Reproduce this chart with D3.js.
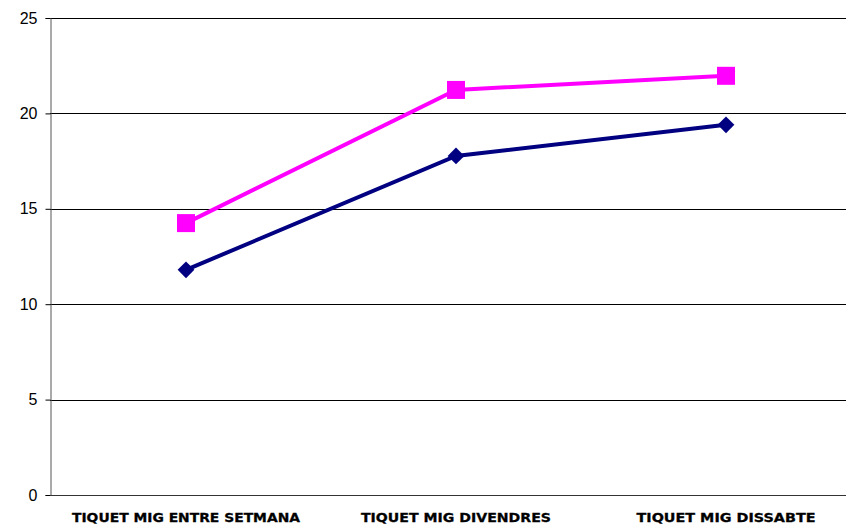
<!DOCTYPE html>
<html>
<head>
<meta charset="utf-8">
<script src="https://cdn.jsdelivr.net/npm/d3@7"></script>
<style>
  body { margin: 0; background: #fff; }
  svg { display: block; }
</style>
</head>
<body>
<svg id="chart" width="846" height="524"></svg>
<script>
const categories = ["TIQUET MIG ENTRE SETMANA", "TIQUET MIG DIVENDRES", "TIQUET MIG DISSABTE"];
const pinkValues = [14.25, 21.23, 21.97];
const navyValues = [11.8, 17.77, 19.4];
const yTicks = [0, 5, 10, 15, 20, 25];

const svg = d3.select("#chart");
const plotLeft = 50, plotRight = 860, plotTop = 18, plotBottom = 495;

const x = d3.scaleBand().domain(categories).range([plotLeft + 1, plotRight + 1]);
const y = d3.scaleLinear().domain([0, 25]).range([plotBottom, plotTop]);
const cx = d => x(d) + x.bandwidth() / 2;

// gridlines
svg.append("g")
    .selectAll("line")
    .data(yTicks.filter(t => t > 0))
    .enter().append("line")
    .attr("x1", plotLeft).attr("x2", 846)
    .attr("y1", d => Math.round(y(d)) + 0.5)
    .attr("y2", d => Math.round(y(d)) + 0.5)
    .attr("stroke", "#000")
    .attr("stroke-width", 1);

// y axis
const yAxis = svg.append("g")
    .attr("transform", `translate(${plotLeft + 0.5},0)`)
    .call(d3.axisLeft(y).tickValues(yTicks).tickSize(5).tickPadding(8));
yAxis.select(".domain").attr("stroke", "#555");
yAxis.selectAll(".tick line").attr("stroke", "#000");
yAxis.selectAll(".tick text")
    .attr("font-family", "Liberation Sans, Arial, sans-serif")
    .attr("font-size", 16)
    .attr("fill", "#000");

// x axis
const labelWidths = { "TIQUET MIG ENTRE SETMANA": 228, "TIQUET MIG DIVENDRES": 190, "TIQUET MIG DISSABTE": 179 };
const xAxis = svg.append("g")
    .attr("transform", `translate(0,${plotBottom + 0.5})`)
    .call(d3.axisBottom(x).tickSize(0).tickPadding(15));
xAxis.select(".domain").attr("stroke", "#333").attr("d", `M${plotLeft},0H846`);
xAxis.selectAll(".tick text")
    .attr("font-family", "DejaVu Sans, Verdana, sans-serif")
    .attr("font-weight", "bold")
    .attr("font-size", 13)
    .attr("fill", "#000")
    .attr("stroke", "#000")
    .attr("stroke-width", 0.3)
    .attr("dy", "0.85em")
    .attr("textLength", d => labelWidths[d])
    .attr("lengthAdjust", "spacingAndGlyphs");

const line = d3.line().x((d, i) => cx(categories[i])).y(d => y(d));

// navy series
svg.append("path")
    .datum(navyValues)
    .attr("d", line)
    .attr("fill", "none")
    .attr("stroke", "#000080")
    .attr("stroke-width", 4);
svg.append("g")
    .selectAll("path")
    .data(navyValues)
    .enter().append("path")
    .attr("d", d3.symbol().type(d3.symbolSquare).size(140))
    .attr("transform", (d, i) => `translate(${cx(categories[i])},${y(d)}) rotate(45)`)
    .attr("fill", "#000080");

// pink series
svg.append("path")
    .datum(pinkValues)
    .attr("d", line)
    .attr("fill", "none")
    .attr("stroke", "#FF00FF")
    .attr("stroke-width", 4);
svg.append("g")
    .selectAll("rect")
    .data(pinkValues)
    .enter().append("rect")
    .attr("x", (d, i) => cx(categories[i]) - 9)
    .attr("y", d => y(d) - 9)
    .attr("width", 18)
    .attr("height", 18)
    .attr("fill", "#FF00FF");
</script>
</body>
</html>
